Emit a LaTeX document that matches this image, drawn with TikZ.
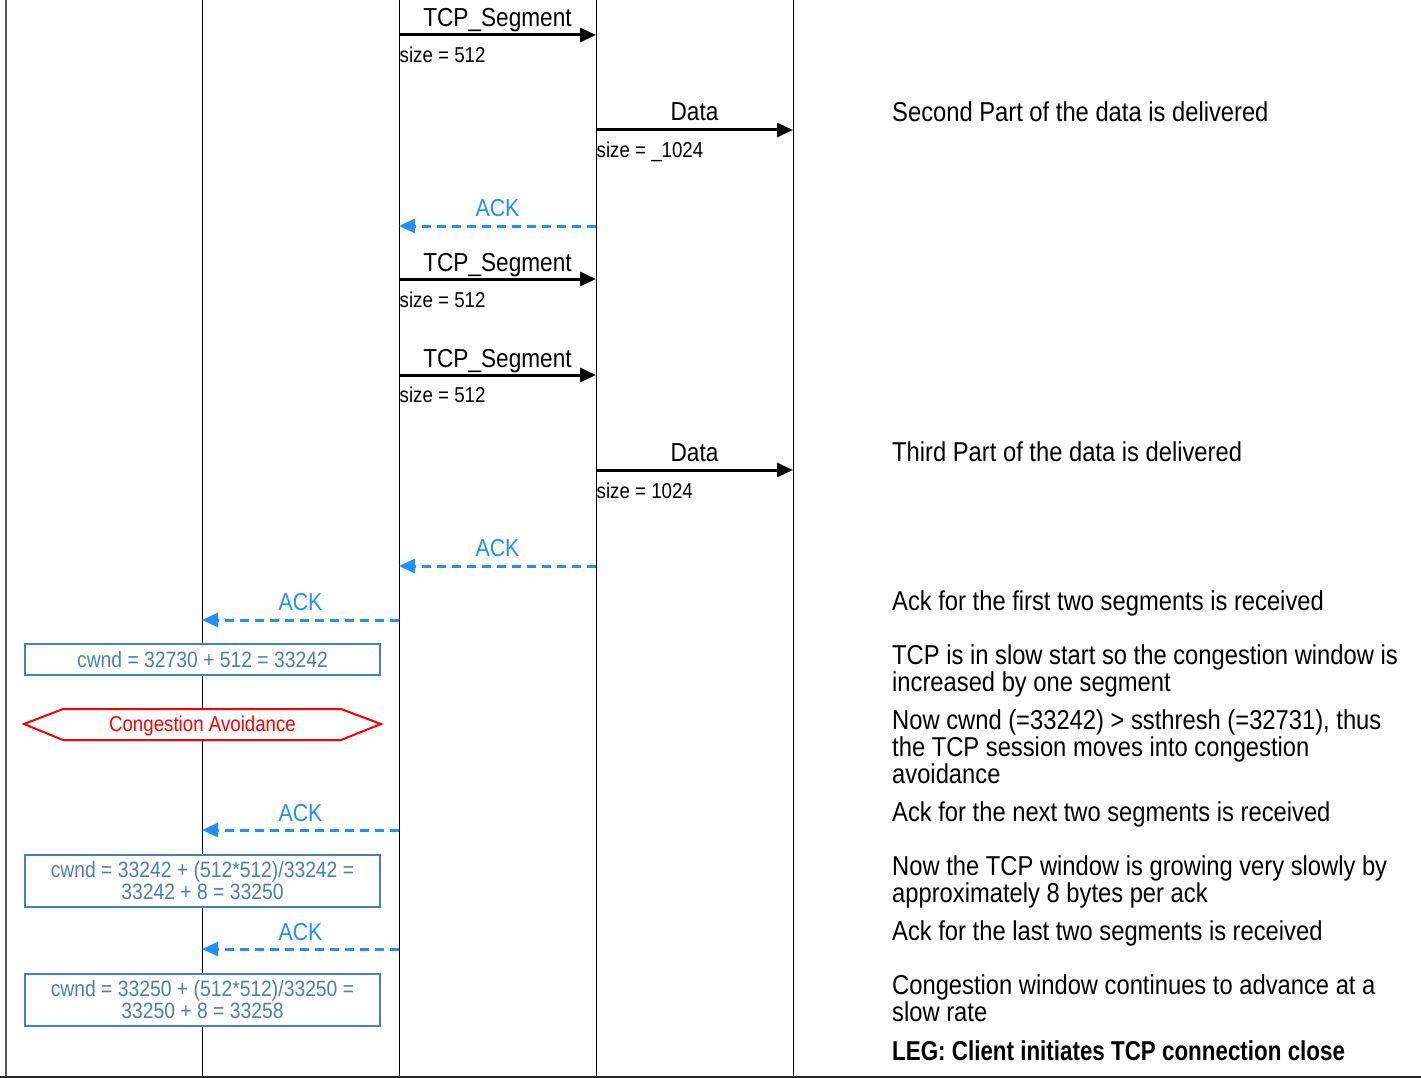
\documentclass[tikz,border=0pt]{standalone}
\usepackage{fontspec}
\setmainfont{Liberation Sans}[FakeStretch=0.87, BoldFeatures={FakeStretch=0.82}]
\usetikzlibrary{arrows.meta}
\definecolor{ackblue}{HTML}{1E90FF}
\definecolor{boxblue}{HTML}{4682B4}
\definecolor{boxtext}{HTML}{4A7EB8}
\definecolor{bordergray}{HTML}{555555}
\tikzset{
  msg/.style={line width=3pt, -{Triangle[length=16pt,width=14pt]}},
  ackmsg/.style={draw=ackblue, line width=3pt, dash pattern=on 9pt off 6pt, -{Triangle[length=16pt,width=14pt]}},
  lbl/.style={font=\fontsize{26}{26}\selectfont, anchor=base, inner sep=0pt},
  acklbl/.style={text=ackblue, font=\fontsize{24.5}{24.5}\selectfont, anchor=base, inner sep=0pt},
  sz/.style={font=\fontsize{21.5}{21.5}\selectfont, anchor=base west, inner sep=0pt},
  note/.style={font=\fontsize{27.3}{27}\selectfont, anchor=base west, inner sep=0pt, align=left},
  cwbox/.style={draw=boxblue, fill=white, line width=2.5pt, text=boxtext, font=\fontsize{22.2}{22}\selectfont, minimum width=355pt, align=center, inner sep=0pt},
  life/.style={line width=1pt, black},
}
\begin{document}
\begin{tikzpicture}[x=1pt,y=-1pt]
\useasboundingbox (0,0) rectangle (1421,1078);
\fill[white] (0,0) rectangle (1421,1078);
% lifelines
\coordinate (L0t) at (6,0);   \coordinate (L0b) at (6,1076);
\coordinate (L1t) at (202,0); \coordinate (L1b) at (202,1076);
\coordinate (L2t) at (399,0); \coordinate (L2b) at (399,1076);
\coordinate (L3t) at (596,0); \coordinate (L3b) at (596,1076);
\coordinate (L4t) at (793,0); \coordinate (L4b) at (793,1076);
\coordinate (BL) at (0,1076.5); \coordinate (BR) at (1421,1076.5);
\draw[line width=1.6pt, bordergray] (L0t) -- (L0b);
\draw[life] (L1t) -- (L1b);
\draw[life] (L2t) -- (L2b);
\draw[life] (L3t) -- (L3b);
\draw[life] (L4t) -- (L4b);
\draw[line width=2pt, black!85] (BL) -- (BR);

% message 1: TCP_Segment
\coordinate (m1a) at (399,35); \coordinate (m1b) at (596,35);
\draw[msg] (m1a) -- (m1b);
\node[lbl] (t1) at (497.5,27) {TCP\_Segment};
\node[sz] (s1) at (399.5,62.5) {size = 512};

% message 2: Data
\coordinate (m2a) at (596,130); \coordinate (m2b) at (793,130);
\draw[msg] (m2a) -- (m2b);
\node[lbl] (t2) at (694.5,121) {Data};
\node[sz] (s2) at (596.5,158) {size = \_1024};
\node[note] (n1) at (892,121.5) {Second Part of the data is delivered};

% ACK
\coordinate (m3a) at (596,226); \coordinate (m3b) at (399,226);
\draw[ackmsg] (m3a) -- (m3b);
\node[acklbl] (t3) at (497.5,216) {ACK};

% TCP_Segment 2
\coordinate (m4a) at (399,279); \coordinate (m4b) at (596,279);
\draw[msg] (m4a) -- (m4b);
\node[lbl] (t4) at (497.5,271) {TCP\_Segment};
\node[sz] (s4) at (399.5,307) {size = 512};

% TCP_Segment 3
\coordinate (m5a) at (399,375); \coordinate (m5b) at (596,375);
\draw[msg] (m5a) -- (m5b);
\node[lbl] (t5) at (497.5,367) {TCP\_Segment};
\node[sz] (s5) at (399.5,402.5) {size = 512};

% Data 2
\coordinate (m6a) at (596,470); \coordinate (m6b) at (793,470);
\draw[msg] (m6a) -- (m6b);
\node[lbl] (t6) at (694.5,461) {Data};
\node[sz] (s6) at (596.5,498.5) {size = 1024};
\node[note] (n2) at (892,461.5) {Third Part of the data is delivered};

% ACK
\coordinate (m7a) at (596,566); \coordinate (m7b) at (399,566);
\draw[ackmsg] (m7a) -- (m7b);
\node[acklbl] (t7) at (497.5,556) {ACK};

% ACK to client
\coordinate (m8a) at (399,620); \coordinate (m8b) at (202,620);
\draw[ackmsg] (m8a) -- (m8b);
\node[acklbl] (t8) at (300.5,610) {ACK};
\node[note] (n3) at (892,610.5) {Ack for the first two segments is received};

% cwnd box 1
\node[cwbox, minimum height=31pt] (b1) at (202.5,659.5) {cwnd = 32730 + 512 = 33242};
\node[note] (n4) at (892,691.5) {TCP is in slow start so the congestion window is\\increased by one segment};

% Congestion Avoidance
\draw[red, line width=2pt, fill=white] (24,724) -- (63,709) -- (341,709) -- (381,724) -- (341,740) -- (63,740) -- cycle;
\node[text=red, font=\fontsize{21.5}{21.5}\selectfont, anchor=base, inner sep=0pt] (ca) at (202.5,731.5) {Congestion Avoidance};
\node[note] (n5) at (892,783.5) {Now cwnd (=33242) > ssthresh (=32731), thus\\the TCP session moves into congestion\\avoidance};

% ACK
\coordinate (m9a) at (399,830); \coordinate (m9b) at (202,830);
\draw[ackmsg] (m9a) -- (m9b);
\node[acklbl] (t9) at (300.5,821) {ACK};
\node[note] (n6) at (892,821.5) {Ack for the next two segments is received};

% cwnd box 2
\node[cwbox, minimum height=52pt] (b2) at (202.5,881) {cwnd = 33242 + (512*512)/33242 =\\33242 + 8 = 33250};
\node[note] (n7) at (892,902.5) {Now the TCP window is growing very slowly by\\approximately 8 bytes per ack};

% ACK
\coordinate (m10a) at (399,949); \coordinate (m10b) at (202,949);
\draw[ackmsg] (m10a) -- (m10b);
\node[acklbl] (t10) at (300.5,940) {ACK};
\node[note] (n8) at (892,940.5) {Ack for the last two segments is received};

% cwnd box 3
\node[cwbox, minimum height=52pt] (b3) at (202.5,1000) {cwnd = 33250 + (512*512)/33250 =\\33250 + 8 = 33258};
\node[note] (n9) at (892,1021.5) {Congestion window continues to advance at a\\slow rate};

\node[note, font=\bfseries\fontsize{27.3}{27}\selectfont] (n10) at (892,1060.5) {LEG: Client initiates TCP connection close};
\end{tikzpicture}
\end{document}
